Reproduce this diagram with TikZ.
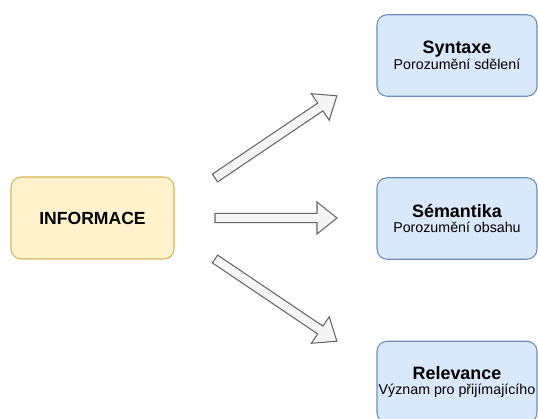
\documentclass[tikz,border=0pt]{standalone}
\usepackage{fontspec}
\setmainfont{Liberation Sans}
\usetikzlibrary{positioning}
\definecolor{infofill}{HTML}{FFF2CC}
\definecolor{infoline}{HTML}{D6B656}
\definecolor{levelfill}{HTML}{DAE8FC}
\definecolor{levelline}{HTML}{6C8EBF}
\definecolor{arrowfill}{HTML}{F5F5F5}
\definecolor{arrowline}{HTML}{666666}
\tikzset{
	infobox/.style={draw=infoline, fill=infofill, rounded corners=0.2cm, line width=0.6pt,
		minimum width=3.26cm, minimum height=1.64cm, font=\bfseries\fontsize{10}{12}\selectfont},
	levelbox/.style={draw=levelline, fill=levelfill, rounded corners=0.2cm, line width=0.6pt,
		minimum width=3.2cm, minimum height=1.63cm, align=center, inner sep=0pt,
		font=\fontsize{10.2}{10}\selectfont},
	blockarrow/.style={draw=arrowline, fill=arrowfill, line width=0.6pt, line join=miter},
}
\newcommand{\lvl}[2]{\textbf{#1}\\[-1pt]{\fontsize{8.1}{9}\selectfont #2}}
\begin{document}
\begin{tikzpicture}[x=0.02cm, y=-0.02cm]
	\useasboundingbox (0,0) rectangle (538,419);
	
	\node[infobox] (info) at (92.5,218) {INFORMACE};
	\node[levelbox] (syn) at (457,55.5) {\lvl{Syntaxe}{Porozumění sdělení}};
	\node[levelbox] (sem) at (457,218.5) {\lvl{Sémantika}{Porozumění obsahu}};
	\node[levelbox] (rel) at (457,382) {\lvl{Relevance}{Význam pro přijímajícího}};
	
	\coordinate (tail) at (215,218);
	\foreach \dy/\ang/\len in {-40/34/147, 0/0/122, 41/-34/147}
		\draw[blockarrow, shift={(tail)}, yshift=-\dy*0.02cm, rotate=\ang]
			(0,-4.7) -- (\len-20,-4.7) -- (\len-20,-16) -- (\len,0)
			-- (\len-20,16) -- (\len-20,4.7) -- (0,4.7) -- cycle;
\end{tikzpicture}
\end{document}
